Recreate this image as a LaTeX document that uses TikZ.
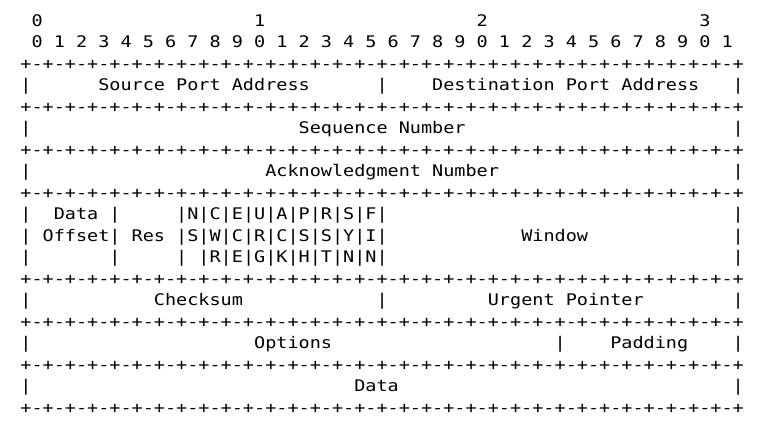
\documentclass[tikz,border=0pt]{standalone}
\usepackage{fontspec}
\newfontfamily\asciifont[FakeStretch=1.1555]{DejaVu Sans Mono}
\newcommand{\ruleline}{+-+-+-+-+-+-+-+-+-+-+-+-+-+-+-+-+-+-+-+-+-+-+-+-+-+-+-+-+-+-+-+-+}
\tikzset{field/.style={anchor=base west, inner sep=0pt, outer sep=0pt,
                       font=\asciifont\fontsize{16pt}{16pt}\selectfont, text=black},
        bar/.style={field},
        rule/.style={field},
        }

\begin{document}
\begin{tikzpicture}[x={(11.13pt,0)}, y={(0,-21.5pt)}]
    \useasboundingbox (-20.4pt,26pt) rectangle (742.6pt,-403pt);
    % bit numbers
    \foreach \t in {0,1,2,3}
        \node[field] (ten\t) at ({1+20*\t},0) {\t};
    \foreach \i [evaluate=\i as \d using {int(mod(\i,10))}] in {0,...,31}
        \node[field] (bit\i) at ({1+2*\i},1) {\d};
    % separators
    \foreach \r in {2,4,6,8,12,14,16,18}
        \node[rule] (rule\r) at (0,\r) {\ruleline};
    \foreach \c/\r in {0/3,32/3,64/3, 0/5,64/5, 0/7,64/7, 0/9,8/9,64/9,
                       0/10,64/10, 0/11,8/11,14/11,64/11, 0/13,32/13,64/13,
                       0/15,48/15,64/15, 0/17,64/17}
        \node[bar] (bar\c-\r) at (\c,\r) {|};
    % fields
    \node[field] (src) at (7,3) {Source Port Address};
    \node[field] (dst) at (37,3) {Destination Port Address};
    \node[field] (seq) at (25,5) {Sequence Number};
    \node[field] (ack) at (22,7) {Acknowledgment Number};
    \node[field] (offset1) at (3,9) {Data};
    \node[field] (offset2) at (2,10) {Offset|};
    \node[field] (res) at (10,10) {Res};
    \node[field] (flags1) at (14,9) {|N|C|E|U|A|P|R|S|F|};
    \node[field] (flags2) at (14,10) {|S|W|C|R|C|S|S|Y|I|};
    \node[field] (flags3) at (16,11) {|R|E|G|K|H|T|N|N|};
    \node[field] (window) at (45,10) {Window};
    \node[field] (chk) at (12,13) {Checksum};
    \node[field] (urg) at (42,13) {Urgent Pointer};
    \node[field] (opt) at (21,15) {Options};
    \node[field] (pad) at (53,15) {Padding};
    \node[field] (data) at (30,17) {Data};
\end{tikzpicture}
\end{document}
